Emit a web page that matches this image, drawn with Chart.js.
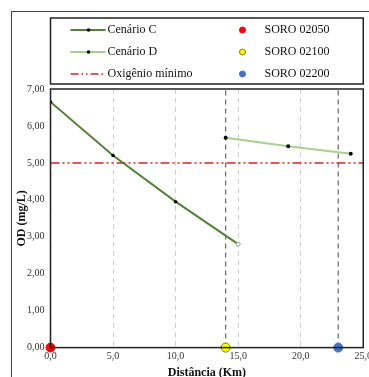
<!DOCTYPE html>
<html>
<head>
<meta charset="utf-8">
<script src="https://cdn.jsdelivr.net/npm/chart.js@4"></script>
<style>
  html, body { margin: 0; padding: 0; overflow: hidden; background: #fff; }
  #wrap { width: 375px; height: 380px; position: relative; }
</style>
</head>
<body>
<div id="wrap"><canvas id="odChart"></canvas></div>
<script>
// Distâncias (Km) e OD (mg/L)
const distC = [0, 5, 10, 15];
const odC = [6.65, 5.2, 3.95, 2.8];
const distD = [14, 19, 24];
const odD = [5.68, 5.45, 5.25];
const odMinimo = 5.0;
const estacoes = ['SORO 02050', 'SORO 02100', 'SORO 02200'];
const distEstacoes = [0, 14, 23];
const coresEstacoes = ['#ff0000', '#ffff00', '#4472c4'];
const xTicks = [0, 5, 10, 15, 20, 25];
const yTicks = [0, 1, 2, 3, 4, 5, 6, 7];
const tituloY = 'OD (mg/L)';

const fmt = (v, d) => v.toFixed(d).replace('.', ',');
const pts = (xs, ys) => xs.map((x, i) => ({ x: x, y: ys[i] }));

const datasets = [];

// linhas verticais das estações
distEstacoes.forEach(d => {
    datasets.push({
        label: '_v',
        data: [{ x: d, y: 0 }, { x: d, y: 7 }],
        borderColor: '#666',
        borderWidth: 1.2,
        borderDash: [5, 4],
        pointRadius: 0,
        showLine: true,
        order: 5
    });
});

datasets.push({
    label: 'Cenário C',
    data: pts(distC, odC),
    borderColor: '#548235',
    borderWidth: 2,
    pointRadius: [1.8, 1.8, 1.8, 2],
    pointBackgroundColor: ['#000', '#000', '#000', '#fff'],
    pointBorderColor: ['#000', '#000', '#000', '#999'],
    pointBorderWidth: [0, 0, 0, 1],
    showLine: true,
    order: 2
});
datasets.push({
    label: 'Cenário D',
    data: pts(distD, odD),
    borderColor: '#a9d18e',
    borderWidth: 2,
    pointRadius: 2,
    pointBackgroundColor: '#000',
    pointBorderWidth: 0,
    showLine: true,
    order: 2
});
datasets.push({
    label: 'Oxigênio mínimo',
    data: [{ x: 0, y: odMinimo }, { x: 25, y: odMinimo }],
    borderColor: '#e02020',
    borderWidth: 1.5,
    borderDash: [9, 3, 2, 3, 2, 3],
    pointRadius: 0,
    showLine: true,
    order: 3
});
estacoes.forEach((nome, i) => {
    datasets.push({
        label: nome,
        data: [{ x: distEstacoes[i], y: 0 }],
        pointRadius: 4.5,
        pointBackgroundColor: coresEstacoes[i],
        pointBorderColor: i === 1 ? '#7f7f00' : coresEstacoes[i],
        pointBorderWidth: 1,
        clip: false,
        order: 0
    });
});

const molduras = {
    id: 'molduras',
    afterDraw(chart) {
        const ctx = chart.ctx;
        const a = chart.chartArea;
        ctx.save();
        // borda externa
        ctx.strokeStyle = '#444';
        ctx.lineWidth = 1;
        ctx.strokeRect(11.5, 11.5, chart.width, chart.height);
        // borda da área do gráfico
        ctx.strokeStyle = '#222';
        ctx.lineWidth = 1.5;
        ctx.strokeRect(a.left, a.top, a.right - a.left, a.bottom - a.top);

        // título do eixo Y
        ctx.save();
        ctx.translate(22, (a.top + a.bottom) / 2);
        ctx.rotate(-Math.PI / 2);
        ctx.font = 'bold 12px "Liberation Serif"';
        ctx.textAlign = 'center';
        ctx.textBaseline = 'middle';
        ctx.fillStyle = '#111';
        ctx.fillText(tituloY, 0, 0);
        ctx.restore();

        // legenda
        const lx = a.left, ly = 18, lw = a.right - a.left, lh = 66;
        ctx.strokeRect(lx, ly, lw, lh);
        ctx.font = '12px "Liberation Serif"';
        ctx.textBaseline = 'middle';
        ctx.fillStyle = '#111';
        const rows = [30, 52, 74];
        const linhas = chart.data.datasets.filter(ds => ds.showLine && ds.label !== '_v');
        linhas.forEach((ds, i) => {
            const y = rows[i];
            ctx.beginPath();
            ctx.strokeStyle = ds.borderColor;
            ctx.lineWidth = ds.borderWidth;
            ctx.setLineDash(ds.borderDash ? [8, 3, 1.5, 3, 1.5, 3] : []);
            ctx.moveTo(lx + 20, y);
            ctx.lineTo(lx + 55, y);
            ctx.stroke();
            ctx.setLineDash([]);
            if (!ds.borderDash) {
                ctx.beginPath();
                ctx.fillStyle = '#000';
                ctx.arc(lx + 38, y, 1.8, 0, Math.PI * 2);
                ctx.fill();
            }
            ctx.fillStyle = '#111';
            ctx.textAlign = 'left';
            ctx.fillText(ds.label, lx + 57, y);
        });
        const pontos = chart.data.datasets.filter(ds => !ds.showLine);
        pontos.forEach((ds, i) => {
            const y = rows[i];
            ctx.beginPath();
            ctx.fillStyle = ds.pointBackgroundColor;
            ctx.strokeStyle = ds.pointBorderColor;
            ctx.lineWidth = 1;
            ctx.arc(lx + 192, y, 3, 0, Math.PI * 2);
            ctx.fill();
            ctx.stroke();
            ctx.fillStyle = '#111';
            ctx.fillText(ds.label, lx + 214, y);
        });
        ctx.restore();
    }
};

new Chart(document.getElementById('odChart'), {
    type: 'scatter',
    data: { datasets: datasets },
    options: {
        responsive: true,
        maintainAspectRatio: false,
        animation: false,
        layout: { padding: { left: 21, top: 89, right: 0, bottom: 0 } },
        plugins: {
            legend: { display: false },
            tooltip: { enabled: false }
        },
        scales: {
            x: {
                type: 'linear',
                min: 0,
                max: 25,
                afterBuildTicks: s => { s.ticks = xTicks.map(v => ({ value: v })); },
                ticks: {
                    callback: v => fmt(v, 1),
                    font: { family: 'Liberation Serif', size: 10 },
                    color: '#333',
                    padding: 3
                },
                grid: {
                    color: c => (c.tick.value > 0 && c.tick.value < 25) ? '#d0d0d0' : 'rgba(0,0,0,0)',
                    lineWidth: 1,
                    drawTicks: false
                },
                border: { display: false, dash: [5, 4] },
                title: {
                    display: true,
                    text: 'Distância (Km)',
                    font: { family: 'Liberation Serif', size: 12, weight: 'bold' },
                    color: '#111',
                    padding: { top: 0, bottom: 0 }
                }
            },
            y: {
                min: 0,
                max: 7,
                afterBuildTicks: s => { s.ticks = yTicks.map(v => ({ value: v })); },
                ticks: {
                    callback: v => fmt(v, 2),
                    font: { family: 'Liberation Serif', size: 10 },
                    color: '#333',
                    padding: 6
                },
                grid: { display: false, drawTicks: false },
                border: { display: false }
            }
        }
    },
    plugins: [molduras]
});
</script>
</body>
</html>
